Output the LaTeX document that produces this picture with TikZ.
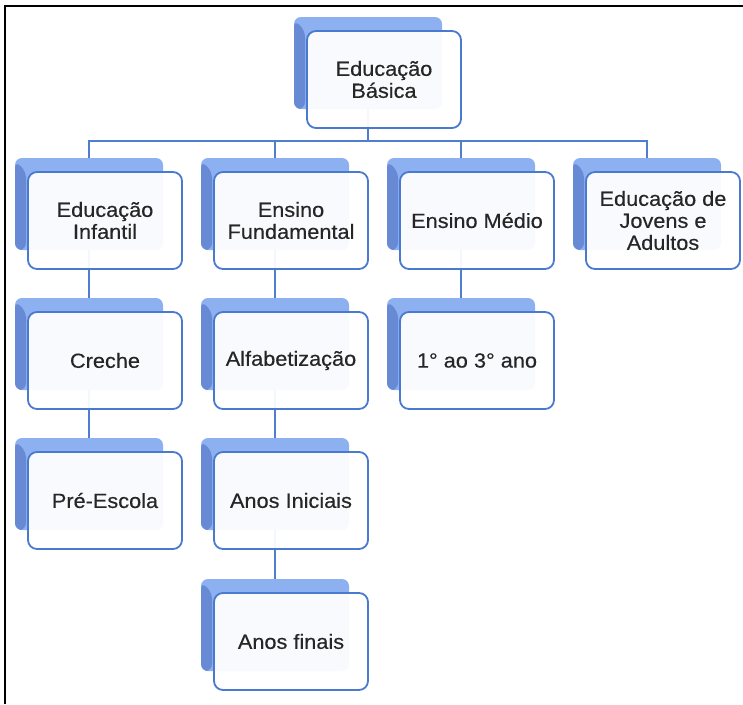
\documentclass[tikz,border=0pt]{standalone}
\usepackage{fontspec}
\setmainfont{Liberation Sans}
\newfontfamily\boxfont{Liberation Sans}[FakeStretch=1.06,FakeBold=0.35]
\usetikzlibrary{backgrounds}

\definecolor{faceblue}{RGB}{141,176,240}
\definecolor{sideblue}{RGB}{104,137,212}
\definecolor{edgeblue}{RGB}{74,122,208}
\definecolor{lineblue}{RGB}{80,125,205}
\definecolor{labelgray}{RGB}{38,38,38}

\tikzset{
  backbox/.style={rectangle, rounded corners=7pt, fill=faceblue,
    minimum width=148pt, minimum height=92pt, inner sep=0pt,
    path picture={
      \fill[sideblue]
        ([yshift=-3pt]path picture bounding box.north west)
        -- ([xshift=11pt,yshift=-13pt]path picture bounding box.north west)
        -- ([xshift=11pt]path picture bounding box.south west)
        -- (path picture bounding box.south west) -- cycle;
    }},
  frontbox/.style={rectangle, rounded corners=9pt, draw=edgeblue,
    line width=1.8pt, fill=white, fill opacity=0.94, text opacity=1,
    minimum width=154pt, minimum height=97pt, inner sep=2pt,
    align=center, text=labelgray,
    font=\boxfont\fontsize{20.5}{22}\selectfont},
  conn/.style={draw=lineblue, line width=2pt},
  frame/.style={draw=black, line width=2pt}
}

% \edubox{name}{left}{top}{label}: shaded back plate plus front card
\newcommand{\edubox}[4]{%
  \node[backbox] (#1-b) at (#2+61, #3+32) {};
  \node[frontbox] (#1) at (#2+77, #3+48.5) {#4};
}

\begin{document}
\begin{tikzpicture}[x=1pt,y=-1pt]
  \useasboundingbox (0,0) rectangle (743,704);

  % outer frame (top and left edges)
  \draw[frame] (5,704) -- (5,6) -- (743,6);

  % cards
  \edubox{basica}{307}{31}{Educação\\Básica}
  \edubox{infantil}{28}{172}{Educação\\Infantil}
  \edubox{fundamental}{214}{172}{Ensino\\Fundamental}
  \edubox{medio}{400}{172}{Ensino Médio}
  \edubox{eja}{586}{172}{Educação de\\Jovens e\\Adultos}
  \edubox{creche}{28}{312}{Creche}
  \edubox{preescola}{28}{452}{Pré-Escola}
  \edubox{alfa}{214}{312}{Alfabetização}
  \edubox{iniciais}{214}{452}{Anos Iniciais}
  \edubox{finais}{214}{593}{Anos finais}
  \edubox{anos}{400}{312}{1° ao 3° ano}

  \coordinate (bus) at (0,141);

  % connectors behind the cards
  \begin{pgfonlayer}{background}
    \foreach \c in {infantil,fundamental,medio,eja}
      \draw[conn] (basica-b.center) -- (basica-b.center |- bus) -| (\c-b.center);
    \draw[conn] (infantil-b.center) -- (creche-b.center);
    \draw[conn] (creche-b.center) -- (preescola-b.center);
    \draw[conn] (fundamental-b.center) -- (alfa-b.center);
    \draw[conn] (alfa-b.center) -- (iniciais-b.center);
    \draw[conn] (iniciais-b.center) -- (finais-b.center);
    \draw[conn] (medio-b.center) -- (anos-b.center);
  \end{pgfonlayer}
\end{tikzpicture}
\end{document}
